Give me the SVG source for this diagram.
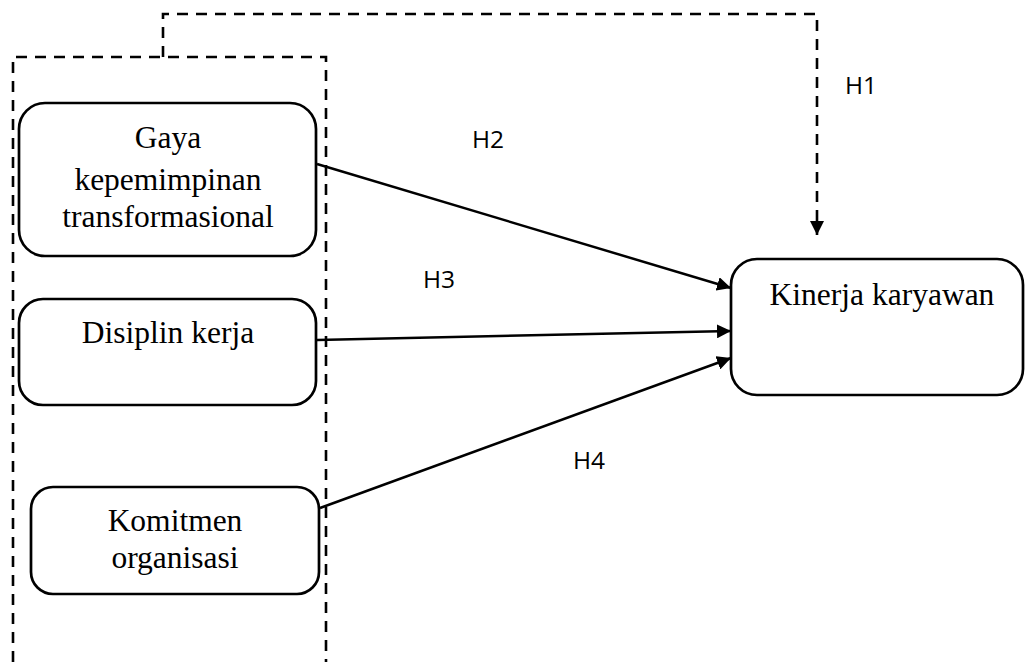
<svg xmlns="http://www.w3.org/2000/svg" width="1026" height="662" viewBox="0 0 1026 662">
<style>
.box{fill:#fff;stroke:#000;stroke-width:2.7}
.t{font-family:"Liberation Serif","Times New Roman",serif;font-size:31.5px;fill:#000;text-anchor:middle}
.h{font-family:"Open Sans","Liberation Sans",sans-serif;font-size:24.5px;fill:#000}
.dash{fill:none;stroke:#000;stroke-width:2.6;stroke-dasharray:11 8}
.arr{fill:none;stroke:#000;stroke-width:2.5}
</style>
<defs>
<marker id="ah" viewBox="0 0 14 14" refX="14" refY="7" markerWidth="14" markerHeight="14" markerUnits="userSpaceOnUse" orient="auto">
<path d="M0,0 L14,7 L0,14 z" fill="#000" stroke="none"/>
</marker>
</defs>
<g id="group-box">
<path class="dash" d="M13,662 V57 H326 V662"/>
</g>
<g id="connectors">
<path class="dash" d="M163,57 V14 H817 V235" marker-end="url(#ah)"/>
<line class="arr" x1="317" y1="164" x2="731" y2="288" marker-end="url(#ah)"/>
<line class="arr" x1="317" y1="340" x2="731" y2="331" marker-end="url(#ah)"/>
<line class="arr" x1="320" y1="508" x2="731" y2="358" marker-end="url(#ah)"/>
<text class="h" x="845" y="94">H1</text>
<text class="h" x="472" y="148">H2</text>
<text class="h" x="423" y="288">H3</text>
<text class="h" x="573" y="469">H4</text>
</g>
<g id="node-gaya">
<rect class="box" x="19" y="103" width="297" height="153" rx="26" ry="26"/>
<text class="t" x="168" y="148">Gaya</text>
<text class="t" x="168" y="190">kepemimpinan</text>
<text class="t" x="168" y="227">transformasional</text>
</g>
<g id="node-disiplin">
<rect class="box" x="19" y="299" width="297" height="106" rx="24" ry="24"/>
<text class="t" x="168" y="343">Disiplin kerja</text>
</g>
<g id="node-komitmen">
<rect class="box" x="31" y="487" width="288" height="107" rx="22" ry="22"/>
<text class="t" x="175" y="531">Komitmen</text>
<text class="t" x="175" y="568">organisasi</text>
</g>
<g id="node-kinerja">
<rect class="box" x="731" y="259" width="292" height="136" rx="26" ry="26"/>
<text class="t" x="882" y="305">Kinerja karyawan</text>
</g>
</svg>
